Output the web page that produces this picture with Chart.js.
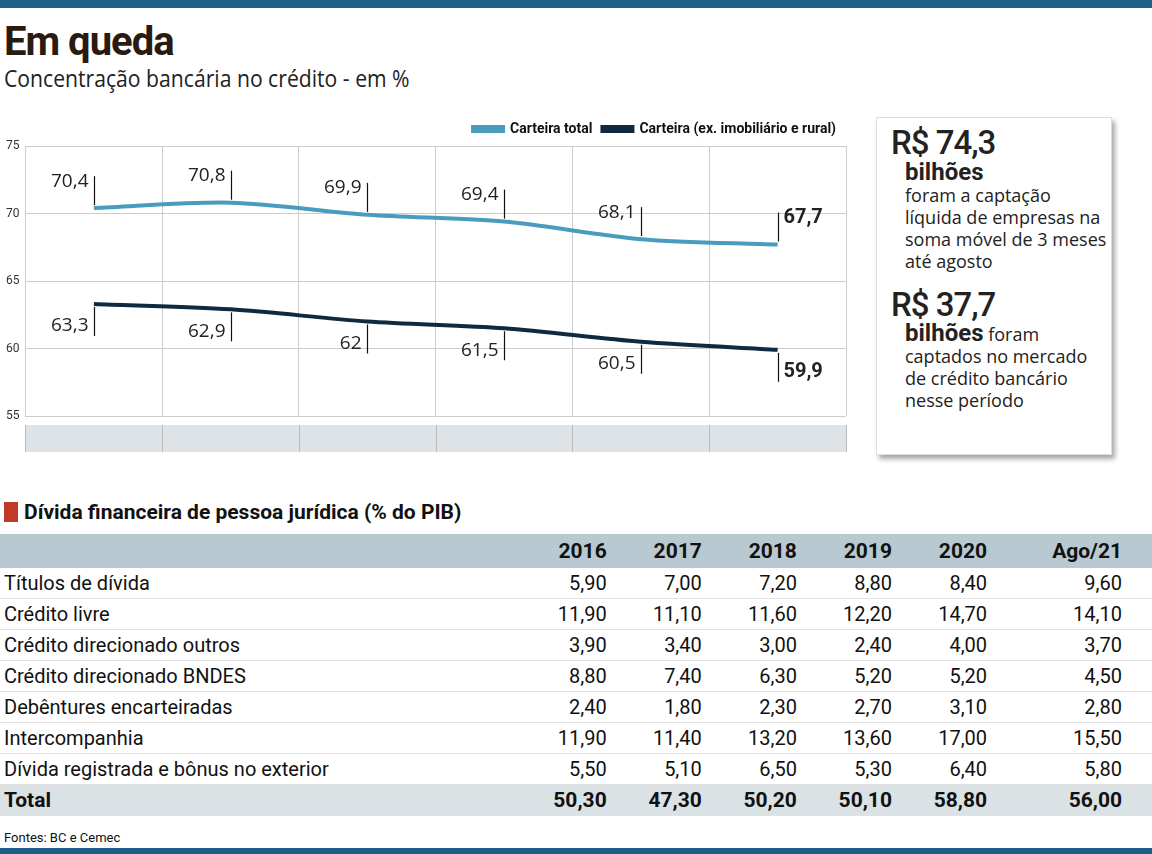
<!DOCTYPE html>
<html><head><meta charset="utf-8">
<script src="https://cdn.jsdelivr.net/npm/chart.js@4"></script>
<style>
body{margin:0;width:1152px;height:854px;background:#fff;font-family:"Roboto",sans-serif;color:#111;position:relative;overflow:hidden}
.bar{position:absolute;left:0;width:1152px;background:#1d5f86}
#title{position:absolute;left:4px;top:18px;font-size:40px;font-weight:bold;letter-spacing:-1px;color:#2a1a10}
#sub{position:absolute;left:4px;top:62px;font-size:23px;font-family:"Open Sans",sans-serif;color:#222;transform:scaleX(.92);transform-origin:left}
#wrap{position:absolute;left:0;top:112px;width:860px;height:350px}
#box{position:absolute;left:876px;top:117px;width:236px;height:338px;background:#fff;box-shadow:3px 4px 5px rgba(0,0,0,.35);border:1px solid #ddd;padding:8px 4px 0 14px;box-sizing:border-box;font-family:"Open Sans",sans-serif;font-size:18px;line-height:22px;color:#222}
#box .big{font-size:33px;line-height:34px;font-family:"Roboto",sans-serif;font-weight:500;letter-spacing:-1px}
#box .w{font-family:"Roboto",sans-serif;font-size:24px;font-weight:bold;line-height:24px;display:block;margin-left:14px}
#box .in{margin-left:14px;display:block}
#sec{position:absolute;left:4px;top:500px;font-size:21px;font-weight:bold}
#sec span{display:inline-block;width:14px;height:20px;background:#c0392b;vertical-align:-3px;margin-right:6px}
table{position:absolute;left:0;top:534px;width:1152px;border-collapse:collapse;font-size:20px}
td,th{padding:0 4px;height:30px}
th{background:#b8c9d1;height:34px;text-align:right;font-size:21px}
td{text-align:right;border-bottom:1px solid #e2e2e2}
td:first-child,th:first-child{text-align:left}
td:last-child,th:last-child{padding-right:30px}
tr.tot td{background:#dbe2e6;font-weight:bold;font-size:21px}
#src{position:absolute;left:4px;top:830px;font-size:13px}
</style></head><body>
<div class="bar" style="top:0;height:8px"></div>
<div id="title">Em queda</div>
<div id="sub">Concentração bancária no crédito - em %</div>
<div id="wrap"><canvas id="c" width="860" height="350"></canvas></div>
<div id="box">
<div class="big">R$ 74,3</div>
<span class="w">bilhões</span>
<span class="in">foram a captação líquida de empresas na soma móvel de 3 meses até agosto</span>
<div class="big" style="margin-top:16px">R$ 37,7</div>
<span class="in"><b style="font-family:Roboto;font-size:24px">bilhões</b> foram captados no mercado de crédito bancário nesse período</span>
</div>
<div id="sec"><span></span>Dívida financeira de pessoa jurídica (% do PIB)</div>
<table id="t"></table>
<div id="src">Fontes: BC e Cemec</div>
<div class="bar" style="top:848px;height:6px"></div>
<script>
const years=["2016","2017","2018","2019","2020","Jun/21"]
const total=[70.4,70.8,69.9,69.4,68.1,67.7]
const exImob=[63.3,62.9,62,61.5,60.5,59.9]
const yTicks=[55,60,65,70,75]

const tblCols=["2016","2017","2018","2019","2020","Ago/21"]
const tblRows=["Títulos de dívida","Crédito livre","Crédito direcionado  outros","Crédito direcionado BNDES","Debêntures encarteiradas","Intercompanhia","Dívida registrada e bônus no exterior"]
const tblVals=[
[5.9,7.0,7.2,8.8,8.4,9.6],
[11.9,11.1,11.6,12.2,14.7,14.1],
[3.9,3.4,3.0,2.4,4.0,3.7],
[8.8,7.4,6.3,5.2,5.2,4.5],
[2.4,1.8,2.3,2.7,3.1,2.8],
[11.9,11.4,13.2,13.6,17.0,15.5],
[5.5,5.1,6.5,5.3,6.4,5.8]]
const tblTotal=[50.3,47.3,50.2,50.1,58.8,56.0]

const fmt=v=>v.toFixed(2).replace(".",",")
let h="<tr><th></th>"+tblCols.map(c=>"<th>"+c+"</th>").join("")+"</tr>"
tblRows.forEach((r,i)=>{h+="<tr><td>"+r+"</td>"+tblVals[i].map(v=>"<td>"+fmt(v)+"</td>").join("")+"</tr>"})
h+="<tr class='tot'><td>Total</td>"+tblTotal.map(v=>"<td>"+fmt(v)+"</td>").join("")+"</tr>"
document.getElementById("t").innerHTML=h

const labelPlugin={
id:"lbl",
beforeDatasetsDraw(ch){
const c=ch.ctx,a=ch.chartArea,x=ch.scales.x
c.save()
c.fillStyle="#dde3e6"
c.fillRect(a.left,a.bottom+9,a.right-a.left,27)
c.strokeStyle="#bbb";c.lineWidth=1
for(let i=0;i<=years.length;i++){
const px=Math.round(x.left+(x.right-x.left)*i/years.length)+.5
c.beginPath();c.moveTo(px,a.bottom+9);c.lineTo(px,a.bottom+36);c.stroke()}
c.restore()
},
afterDatasetsDraw(ch){
const c=ch.ctx
c.save();c.strokeStyle="#111";c.lineWidth=1.2;c.fillStyle="#222"
;[0,1].forEach(d=>{
const meta=ch.getDatasetMeta(d)
const data=ch.data.datasets[d].data
meta.data.forEach((p,i)=>{
const last=i==data.length-1
const dir=d==0?-1:1
const x0=Math.round(p.x)+.5
c.beginPath();c.moveTo(x0,p.y+dir*3);c.lineTo(x0,p.y+dir*32);c.stroke()
const txt=String(data[i]).replace(".",",")
c.font=last?"bold 20px Roboto,sans-serif":"19px 'Open Sans',sans-serif"
c.textAlign=last?"left":"right"
c.textBaseline="middle"
c.fillText(txt,last?x0+5:x0-6,p.y+dir*(d==0?27:22))
})})
c.restore()
}}

new Chart(document.getElementById("c"),{
type:"line",
data:{labels:years,datasets:[
{label:"Carteira total",data:total,borderColor:"#4a9cbf",borderWidth:4,pointRadius:0,tension:.3},
{label:"Carteira (ex. imobiliário e rural)",data:exImob,borderColor:"#0d2a42",borderWidth:4,pointRadius:0,tension:.3}]},
options:{responsive:false,animation:false,
layout:{padding:{top:0,right:14,left:0,bottom:0}},
plugins:{legend:{align:"end",labels:{boxWidth:30,boxHeight:4,font:{size:14,weight:"bold",family:"Roboto,sans-serif"},color:"#111",padding:10}},tooltip:{enabled:false}},
scales:{
x:{offset:true,grid:{offset:true,color:"#ccc",drawTicks:false},border:{display:false},
ticks:{padding:14,color:"#111",font:{size:15,weight:"bold",family:"Roboto,sans-serif"}}},
y:{min:55,max:75,afterBuildTicks:s=>{s.ticks=yTicks.map(v=>({value:v}))},
grid:{color:"#ccc",drawTicks:false},border:{display:false},
ticks:{padding:6,color:"#333",font:{size:12,family:"Roboto,sans-serif"}}}}},
plugins:[labelPlugin]})
</script>
</body></html>
